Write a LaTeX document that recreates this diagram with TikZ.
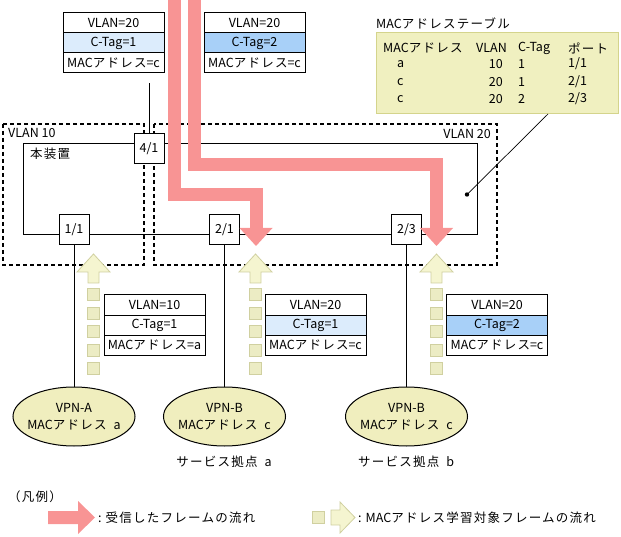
\documentclass[tikz,border=0pt]{standalone}
\usepackage{fontspec}
\setmainfont{Noto Sans CJK JP}
\newfontfamily\jf{Noto Sans CJK JP}[LetterSpace=10]
\usetikzlibrary{shapes.geometric}
\definecolor{pinkc}{RGB}{248,148,148}
\definecolor{beigef}{RGB}{245,245,208}
\definecolor{beiged}{RGB}{208,208,160}
\definecolor{sqf}{RGB}{236,236,196}
\definecolor{tblf}{RGB}{240,240,192}
\definecolor{tbld}{RGB}{212,212,140}
\definecolor{ellf}{RGB}{240,238,190}
\definecolor{ctaga}{RGB}{220,236,252}
\definecolor{ctagb}{RGB}{168,208,248}
\newcommand\gap{\hspace{7pt}}
\tikzset{
  every node/.style={font=\fontsize{12.5}{17}\selectfont, inner sep=0pt},
  frrow/.style={draw, line width=1pt, minimum width=101pt, minimum height=20pt, fill=white},
  portbox/.style={draw, line width=1pt, minimum width=30pt, minimum height=30pt, fill=white},
  vlanzone/.style={draw, line width=1.1pt, dash pattern=on 4pt off 3pt},
  plain/.style={draw, line width=1pt},
  flow/.style={draw=pinkc, line width=13pt, line join=miter},
  flowhead/.style={fill=pinkc},
  learn/.style={fill=beigef, draw=beiged, line width=0.8pt},
  sq/.style={fill=sqf, draw=beiged, line width=0.8pt, minimum width=12pt, minimum height=12pt},
  site/.style={ellipse, draw, line width=1pt, fill=ellf, minimum width=122pt, minimum height=59pt},
  sitetext/.style={align=center},
}
\begin{document}
\begin{tikzpicture}[x=1pt, y=-1pt]
\useasboundingbox (0,0) rectangle (621,537);

% VLAN zones
\draw[vlanzone] (3,124) rectangle (144,265);
\draw[vlanzone] (154,124) rectangle (497,265);
\node[anchor=west] (v10) at (8,133) {VLAN 10};
\node[anchor=east] (v20) at (491,134) {VLAN 20};

% device box
\draw[plain] (23,235) -- (23,144) -- (477,144) -- (477,235) -- cycle;
\node[anchor=west] (dev) at (30,154) {\jf 本装置};

% ports
\node[portbox] (p41) at (149,149) {4/1};
\node[portbox] (p11) at (74,229.5) {1/1};
\node[portbox] (p21) at (224.5,229.5) {2/1};
\node[portbox] (p23) at (406.5,229.5) {2/3};

% top frames
\node[frrow] (fa1) at (113.5,23) {VLAN=20};
\node[frrow, fill=ctaga] (fa2) at (113.5,43) {C-Tag=1};
\node[frrow] (fa3) at (113.5,63) {MAC{\jf アドレス}=c};
\node[frrow] (fb1) at (254.5,23) {VLAN=20};
\node[frrow, fill=ctagb] (fb2) at (254.5,43) {C-Tag=2};
\node[frrow] (fb3) at (254.5,63) {MAC{\jf アドレス}=c};

\coordinate (upend) at (149,83);
\draw[plain] (p41) -- (upend);

% sites
\node[site] (vpnA) at (74,416.5) {};
\node[sitetext] (vpnAt) at (vpnA.center) {VPN-A\\MAC{\jf アドレス}\gap a};
\node[site] (vpnBa) at (224.5,416.5) {};
\node[sitetext] (vpnBat) at (vpnBa.center) {VPN-B\\MAC{\jf アドレス}\gap c};
\node[site] (vpnBb) at (406.5,416.5) {};
\node[sitetext] (vpnBbt) at (vpnBb.center) {VPN-B\\MAC{\jf アドレス}\gap c};
\node (sa) at (224,462) {{\jf サービス拠点}\gap a};
\node (sb) at (406,462) {{\jf サービス拠点}\gap b};

\draw[plain] (p11) -- (vpnA);
\draw[plain] (p21) -- (vpnBa);
\draw[plain] (p23) -- (vpnBb);

% learning flows (up arrows + squares)
\foreach \cx/\nm in {93.5/a,255.5/b,436.5/c}{
  \draw[learn] (\cx,254) -- (\cx+16.5,272) -- (\cx+5.5,272) -- (\cx+5.5,283)
     -- (\cx-5.5,283) -- (\cx-5.5,272) -- (\cx-16.5,272) -- cycle;
  \foreach \yy/\k in {294/1,313/2,331/3,350/4,368/5}{
    \node[sq] (sq\nm\k) at (\cx,\yy) {};
  }
}

% bottom frames
\node[frrow] (fc1) at (154.5,305) {VLAN=10};
\node[frrow] (fc2) at (154.5,325) {C-Tag=1};
\node[frrow] (fc3) at (154.5,345) {MAC{\jf アドレス}=a};
\node[frrow] (fd1) at (315.5,305) {VLAN=20};
\node[frrow, fill=ctaga] (fd2) at (315.5,325) {C-Tag=1};
\node[frrow] (fd3) at (315.5,345) {MAC{\jf アドレス}=c};
\node[frrow] (fe1) at (497,305) {VLAN=20};
\node[frrow, fill=ctagb] (fe2) at (497,325) {C-Tag=2};
\node[frrow] (fe3) at (497,345) {MAC{\jf アドレス}=c};

% received frame flows (pink)
\draw[flow] (174.5,0) -- (174.5,194.5) -- (256,194.5) -- (256,229);
\fill[flowhead] (239.5,228) -- (272.5,228) -- (256,246) -- cycle;
\draw[flow] (194.5,0) -- (194.5,164.5) -- (436.5,164.5) -- (436.5,229);
\fill[flowhead] (420,228) -- (453,228) -- (436.5,246) -- cycle;

% MAC address table
\node[anchor=west] (ttl) at (376,23) {MAC{\jf アドレステーブル}};
\node[draw=tbld, fill=tblf, line width=1pt, minimum width=242pt, minimum height=81pt] (tbl) at (497,73.5) {};
\node[anchor=west] (h1) at (383,48) {MAC{\jf アドレス}};
\node[anchor=west] (h2) at (476,48) {VLAN};
\node[anchor=west] (h3) at (518,48) {C-Tag};
\node[anchor=west] (h4) at (568,48) {\jf ポート};
\foreach \yy/\m/\v/\c/\p/\k in {64/a/10/1/1\slash1/1, 82/c/20/1/2\slash1/2, 99/c/20/2/2\slash3/3}{
  \node[anchor=west] (m\k) at (397,\yy) {\m};
  \node[anchor=east] (v\k) at (503,\yy) {\v};
  \node[anchor=west] (c\k) at (518,\yy) {\c};
  \node[anchor=west] (pp\k) at (568,\yy) {\p};
}
\coordinate (dot) at (467,194.5);
\fill (dot) circle (2.2pt);
\draw[line width=0.7pt] (dot) -- (548,114);

% legend
\node[anchor=west] (leg) at (8,497) {\jf （凡例）};
\fill[pinkc] (48,511) -- (78,511) -- (78,501) -- (95,517.5) -- (78,534) -- (78,524) -- (48,524) -- cycle;
\node[anchor=west] (l1) at (98,517.5) {:\hspace{4pt}{\jf 受信したフレームの流れ}};
\node[sq] (lsq) at (318,517.5) {};
\draw[learn] (331,510) -- (340,510) -- (340,502) -- (355,517.5) -- (340,533) -- (340,525) -- (331,525) -- cycle;
\node[anchor=west] (l2) at (358,517.5) {:\hspace{4pt}MAC{\jf アドレス学習対象フレームの流れ}};
\end{tikzpicture}
\end{document}
